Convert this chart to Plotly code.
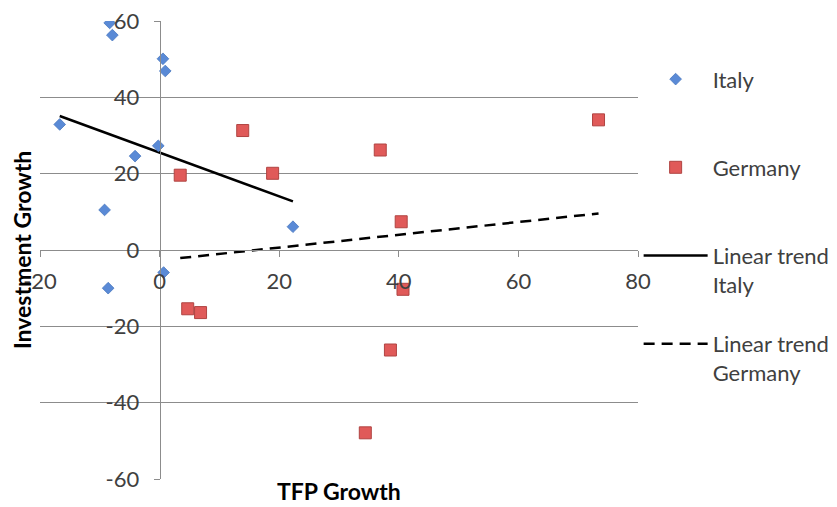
import numpy as np
import plotly.graph_objects as go

# TFP growth vs investment growth, by country
italy_tfp = [-8.35, -7.9, 0.56, 0.95, -16.7, -0.22, -4.1, -9.2, 22.3, 0.67, -8.6]
italy_inv = [59.5, 56.3, 50.1, 46.9, 32.9, 27.3, 24.6, 10.5, 6.1, -5.9, -10.0]

germany_tfp = [13.9, 3.45, 18.9, 36.9, 73.4, 40.4, 40.7, 38.6, 34.4, 4.7, 6.85]
germany_inv = [31.3, 19.6, 20.1, 26.2, 34.1, 7.4, -10.3, -26.2, -47.9, -15.4, -16.4]

x_ticks = [-20, 0, 20, 40, 60, 80]
y_ticks = [-60, -40, -20, 0, 20, 40, 60]

FONT = "Lato"
TEXT = "#404040"
GRID = "#8c8c8c"


def linear_trend(x, y):
    slope, intercept = np.polyfit(x, y, 1)
    xs = np.array([min(x), max(x)])
    return xs, slope * xs + intercept


it_x, it_y = linear_trend(italy_tfp, italy_inv)
de_x, de_y = linear_trend(germany_tfp, germany_inv)

fig = go.Figure()
fig.add_trace(go.Scatter(
    x=it_x, y=it_y, mode="lines", name="Linear trend<br>Italy",
    line=dict(color="black", width=2.5), legendrank=3, legendgroup="c",
))
fig.add_trace(go.Scatter(
    x=de_x, y=de_y, mode="lines", name="Linear trend<br>Germany",
    line=dict(color="black", width=2.5, dash="11px,7px"), legendrank=4, legendgroup="d",
))
fig.add_trace(go.Scatter(
    x=italy_tfp, y=italy_inv, mode="markers", name="Italy<br> ",
    marker=dict(symbol="diamond", size=9, color="#5a8ad6",
                line=dict(color="#4a78bf", width=0.8)),
    legendrank=1, legendgroup="a",
))
fig.add_trace(go.Scatter(
    x=germany_tfp, y=germany_inv, mode="markers", name="Germany<br> ",
    marker=dict(symbol="square", size=12, color="#e05a59",
                line=dict(color="#b04442", width=1)),
    legendrank=2, legendgroup="b",
))

fig.update_layout(
    width=837, height=507,
    margin=dict(l=40, r=199, t=21, b=28, autoexpand=False),
    paper_bgcolor="white", plot_bgcolor="white",
    font=dict(family=FONT, size=22, color=TEXT),
    showlegend=True,
    legend=dict(
        xref="container", yref="container", x=0.763, y=0.885,
        xanchor="left", yanchor="top",
        valign="top", tracegroupgap=28, itemwidth=64,
        maxheight=480,
        font=dict(family=FONT, size=22, color=TEXT),
        bgcolor="rgba(0,0,0,0)",
    ),
    xaxis=dict(
        range=[-20, 80], tickvals=x_ticks, ticktext=[str(v) for v in x_ticks],
        showgrid=False, zeroline=False,
        showline=True, linecolor=GRID, linewidth=1,
        ticks="outside", ticklen=6, tickcolor=GRID, tickwidth=1,
        anchor="free", position=0.5, ticklabelstandoff=6,
        tickfont=dict(family=FONT, size=22, color=TEXT),
    ),
    yaxis=dict(
        range=[-60, 60], tickvals=y_ticks, ticktext=[str(v) for v in y_ticks],
        showgrid=True, gridcolor=GRID, gridwidth=1, zeroline=False,
        showline=True, linecolor=GRID, linewidth=1,
        ticks="outside", ticklen=6, tickcolor=GRID, tickwidth=1,
        anchor="free", position=0.2, ticklabelstandoff=10,
        tickfont=dict(family=FONT, size=22, color=TEXT),
    ),
    annotations=[
        dict(text="<b>Investment Growth</b>", textangle=-90,
             xref="paper", yref="paper", x=-0.03, y=0.5,
             xanchor="center", yanchor="middle", showarrow=False,
             font=dict(family=FONT, size=23, color="black")),
        dict(text="<b>TFP Growth</b>",
             xref="paper", yref="paper", x=0.5, y=-0.061,
             xanchor="center", yanchor="bottom", showarrow=False,
             font=dict(family=FONT, size=23, color="black")),
    ],
)

fig.write_html("out.html")
